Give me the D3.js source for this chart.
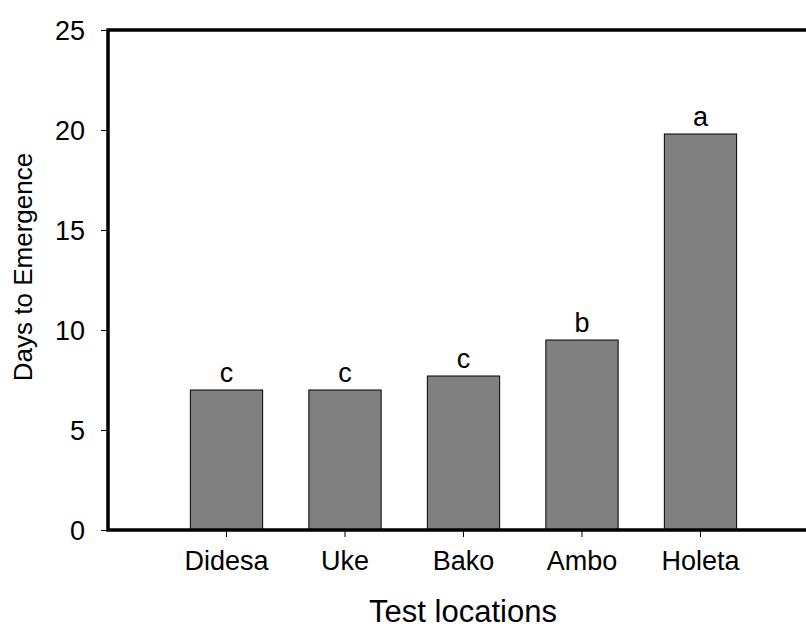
<!DOCTYPE html>
<html>
<head>
<meta charset="utf-8">
<script src="https://cdn.jsdelivr.net/npm/d3@7"></script>
<style>
  body { margin: 0; background: #fff; overflow: hidden; }
  svg { display: block; }
  text { font-family: "Liberation Sans", Arial, sans-serif; fill: #000; }
</style>
</head>
<body>
<svg width="806" height="629"></svg>
<script>
var locations = ["Didesa", "Uke", "Bako", "Ambo", "Holeta"];
var days = [7.0, 7.0, 7.7, 9.5, 19.8];
var letters = ["c", "c", "c", "b", "a"];
var yTicks = [0, 5, 10, 15, 20, 25];

var svg = d3.select("svg");

var plotLeft = 108, plotTop = 30, plotBottom = 530, plotRight = 819;

var x = d3.scaleBand()
  .domain(locations)
  .range([167.25, 759.75])
  .paddingInner(0.39)
  .paddingOuter(0.195);

var y = d3.scaleLinear().domain([0, 25]).range([plotBottom, plotTop]);

// bars
svg.selectAll(".bar")
  .data(locations)
  .enter().append("rect")
  .attr("class", "bar")
  .attr("x", function(d) { return x(d); })
  .attr("width", x.bandwidth())
  .attr("y", function(d, i) { return y(days[i]); })
  .attr("height", function(d, i) { return plotBottom - y(days[i]); })
  .attr("fill", "#808080")
  .attr("stroke", "#000")
  .attr("stroke-width", 1);

// significance letters
svg.selectAll(".letter")
  .data(locations)
  .enter().append("text")
  .attr("x", function(d) { return x(d) + x.bandwidth() / 2; })
  .attr("y", function(d, i) { return y(days[i]) - 8; })
  .attr("text-anchor", "middle")
  .style("font-size", "27px")
  .text(function(d, i) { return letters[i]; });

// y axis
var yAxis = svg.append("g")
  .attr("transform", "translate(" + plotLeft + ",0)")
  .call(d3.axisLeft(y).tickValues(yTicks).tickSize(7).tickPadding(16));
yAxis.select(".domain").remove();
yAxis.selectAll(".tick line").attr("stroke", "#000").attr("stroke-width", 1);
yAxis.selectAll(".tick text").style("font-size", "27px").attr("dy", "0.35em");

// x axis
var xAxis = svg.append("g")
  .attr("transform", "translate(0," + plotBottom + ")")
  .call(d3.axisBottom(x).tickSize(7).tickPadding(14));
xAxis.select(".domain").remove();
xAxis.selectAll(".tick line").attr("stroke", "#000").attr("stroke-width", 1);
xAxis.selectAll(".tick text").style("font-size", "27px").attr("dy", "0.71em");

// frame
svg.append("path")
  .attr("d", "M" + plotRight + "," + plotBottom + "H" + plotLeft + "V" + plotTop + "H" + plotRight)
  .attr("fill", "none")
  .attr("stroke", "#000")
  .attr("stroke-width", 3.5)
  .attr("stroke-linecap", "square");

// axis titles
svg.append("text")
  .attr("x", 463)
  .attr("y", 622)
  .attr("text-anchor", "middle")
  .style("font-size", "31px")
  .text("Test locations");

svg.append("text")
  .attr("transform", "translate(32,267) rotate(-90)")
  .attr("text-anchor", "middle")
  .style("font-size", "26px")
  .text("Days to Emergence");
</script>
</body>
</html>
